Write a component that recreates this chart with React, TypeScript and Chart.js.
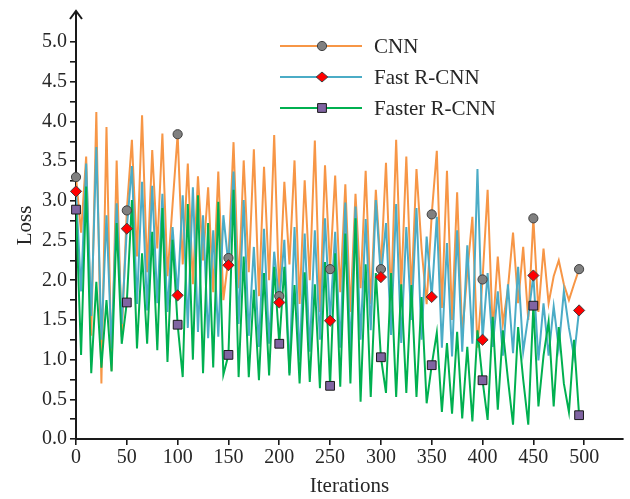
import React, { useEffect, useRef } from 'react';
import { Chart, registerables } from 'chart.js';

Chart.register(...registerables);

// ---- data ----
const iterations = [
  0, 5, 10, 15, 20, 25, 30, 35, 40, 45,
  50, 55, 60, 65, 70, 75, 80, 85, 90, 95,
  100, 105, 110, 115, 120, 125, 130, 135, 140, 145,
  150, 155, 160, 165, 170, 175, 180, 185, 190, 195,
  200, 205, 210, 215, 220, 225, 230, 235, 240, 245,
  250, 255, 260, 265, 270, 275, 280, 285, 290, 295,
  300, 305, 310, 315, 320, 325, 330, 335, 340, 345,
  350, 355, 360, 365, 370, 375, 380, 385, 390, 395,
  400, 405, 410, 415, 420, 425, 430, 435, 440, 445,
  450, 455, 460, 465, 470, 475, 480, 485, 490, 495,
];

const cnnLoss = [
  3.30, 2.60, 3.56, 1.30, 4.12, 0.70, 3.93, 0.86, 3.51, 1.29,
  2.88, 3.77, 2.30, 4.08, 2.10, 3.64, 2.40, 3.85, 2.05, 2.95,
  3.84, 2.20, 3.47, 1.95, 3.31, 2.25, 3.17, 1.85, 3.37, 1.75,
  2.28, 3.74, 1.90, 3.51, 2.10, 3.65, 1.80, 3.43, 2.00, 3.83,
  1.80, 3.24, 2.20, 3.51, 1.70, 3.26, 2.00, 3.76, 1.60, 3.45,
  2.14, 3.32, 1.85, 3.21, 1.60, 3.09, 1.90, 3.38, 1.70, 3.14,
  2.14, 3.48, 1.75, 3.77, 1.90, 3.56, 1.85, 3.40, 2.40, 1.70,
  2.83, 3.63, 1.65, 3.38, 1.50, 3.11, 1.31, 2.10, 2.80, 1.15,
  2.01, 3.14, 1.35, 2.30, 1.45, 1.90, 2.60, 1.71, 2.42, 1.50,
  2.78, 1.60, 2.40, 1.71, 2.05, 2.25, 1.95, 1.75, 1.95, 2.14,
];

const fastLoss = [
  3.12, 1.86, 3.47, 1.55, 3.68, 1.25, 2.82, 1.14, 2.97, 1.45,
  2.65, 3.44, 1.70, 3.24, 1.62, 3.19, 1.71, 3.09, 1.60, 2.67,
  1.81, 3.07, 1.40, 3.17, 1.35, 2.82, 1.27, 2.63, 1.29, 2.82,
  2.19, 3.37, 1.45, 3.01, 1.30, 2.42, 1.16, 2.65, 1.20, 2.36,
  1.72, 2.51, 0.83, 2.67, 0.99, 2.59, 1.10, 2.63, 1.25, 2.78,
  1.49, 2.61, 1.15, 2.98, 1.10, 2.93, 1.25, 2.77, 1.37, 3.01,
  2.04, 2.72, 1.31, 2.96, 1.21, 2.67, 1.50, 2.91, 1.25, 2.55,
  1.79, 2.80, 1.15, 2.47, 1.04, 2.63, 1.10, 2.44, 1.20, 3.40,
  1.25, 2.09, 1.16, 1.86, 1.05, 1.95, 1.08, 2.17, 1.10, 1.55,
  2.06, 0.99, 1.71, 1.05, 1.67, 1.15, 1.86, 1.40, 1.04, 1.62,
];

const fasterLoss = [
  2.89, 1.06, 3.18, 0.83, 1.98, 0.90, 1.75, 0.85, 2.72, 1.20,
  1.72, 3.01, 1.14, 2.34, 1.20, 2.61, 1.12, 2.91, 0.97, 2.51,
  1.44, 0.78, 2.96, 1.00, 3.07, 0.83, 2.72, 0.90, 2.99, 0.81,
  1.06, 3.14, 0.78, 2.30, 0.78, 1.88, 0.74, 2.09, 0.80, 2.17,
  1.20, 2.17, 0.80, 1.94, 0.70, 2.10, 0.72, 1.95, 0.64, 2.23,
  0.67, 2.34, 0.66, 2.59, 0.70, 2.78, 0.47, 2.20, 0.53, 2.09,
  1.03, 0.58, 2.09, 0.53, 1.95, 0.58, 1.94, 0.53, 1.79, 0.45,
  0.93, 1.34, 0.34, 1.21, 0.32, 1.35, 0.26, 1.16, 0.22, 1.37,
  0.74, 0.24, 1.54, 0.37, 1.37, 0.75, 0.18, 1.41, 0.75, 0.18,
  1.68, 0.41, 1.05, 1.48, 0.41, 1.41, 0.70, 0.34, 1.25, 0.30,
];

const markerIndices = [0, 10, 20, 30, 40, 50, 60, 70, 80, 90, 99];
const xTickValues = [0, 50, 100, 150, 200, 250, 300, 350, 400, 450, 500];
const yTickValues = [
  0, 0.25, 0.5, 0.75, 1.0, 1.25, 1.5, 1.75, 2.0, 2.25, 2.5, 2.75,
  3.0, 3.25, 3.5, 3.75, 4.0, 4.25, 4.5, 4.75, 5.0,
];

const seriesNames = ['CNN', 'Fast R-CNN', 'Faster R-CNN'];
const seriesValues = [cnnLoss, fastLoss, fasterLoss];

// ---- styles ----
const lineColors = ['#F79646', '#4BACC6', '#00B050'];
const markerFills = ['#808080', '#FF0000', '#8064A2'];
const markerBorders = ['#404040', '#404040', '#1a1a1a'];
const markerStyles = ['circle', 'rectRot', 'rect'];
const markerRadii = [4.6, 5.6, 6.2];
const FONT = "'Liberation Serif', 'Times New Roman', serif";
const TEXT_COLOR = '#262626';
const AXIS_COLOR = '#1a1a1a';

function drawLegendMarker(ctx: CanvasRenderingContext2D, k: number, x: number, y: number) {
  ctx.beginPath();
  if (markerStyles[k] === 'circle') {
    ctx.arc(x, y, 4.6, 0, Math.PI * 2);
  } else if (markerStyles[k] === 'rectRot') {
    ctx.moveTo(x - 5.8, y);
    ctx.lineTo(x, y - 5);
    ctx.lineTo(x + 5.8, y);
    ctx.lineTo(x, y + 5);
    ctx.closePath();
  } else {
    ctx.rect(x - 4.4, y - 4.4, 8.8, 8.8);
  }
  ctx.fillStyle = markerFills[k];
  ctx.fill();
  ctx.lineWidth = 1;
  ctx.strokeStyle = markerBorders[k];
  ctx.stroke();
}

const legendRows = [46, 77, 108];

const overlayPlugin = {
  id: 'overlay',
  afterDraw(chart: any) {
    const ctx: CanvasRenderingContext2D = chart.ctx;
    const area = chart.chartArea;
    ctx.save();
    // arrow on top of y axis
    ctx.strokeStyle = AXIS_COLOR;
    ctx.lineWidth = 2;
    ctx.beginPath();
    ctx.moveTo(area.left - 6, area.top + 7);
    ctx.lineTo(area.left, area.top - 1);
    ctx.lineTo(area.left + 6, area.top + 7);
    ctx.stroke();
    // legend
    seriesNames.forEach((name, k) => {
      const y = legendRows[k];
      ctx.strokeStyle = lineColors[k];
      ctx.lineWidth = 2.2;
      ctx.beginPath();
      ctx.moveTo(280, y);
      ctx.lineTo(362, y);
      ctx.stroke();
      drawLegendMarker(ctx, k, 322, y);
      ctx.fillStyle = TEXT_COLOR;
      ctx.font = `21px ${FONT}`;
      ctx.textBaseline = 'middle';
      ctx.textAlign = 'left';
      ctx.fillText(name, 374, y + 1);
    });
    ctx.restore();
  },
};

export default function App() {
  const canvasRef = useRef<HTMLCanvasElement | null>(null);

  useEffect(() => {
    document.body.style.margin = '0';
    const canvas = canvasRef.current;
    if (!canvas) return;

    const lineSets = seriesValues.map((vals, k) => ({
      type: 'line' as const,
      label: seriesNames[k],
      data: iterations.map((x, i) => ({ x, y: vals[i] })),
      borderColor: lineColors[k],
      borderWidth: 2,
      pointRadius: 0,
      tension: 0,
      fill: false,
      order: 12 - k,
    }));

    const markerSets = seriesValues.map((vals, k) => ({
      type: 'line' as const,
      label: seriesNames[k] + ' markers',
      data: markerIndices.map((i) => ({ x: iterations[i], y: vals[i] })),
      showLine: false,
      pointStyle: markerStyles[k],
      pointRadius: markerRadii[k],
      pointBackgroundColor: markerFills[k],
      pointBorderColor: markerBorders[k],
      pointBorderWidth: 1,
      clip: false as any,
      order: 2 - k,
    }));

    const chart = new Chart(canvas, {
      type: 'line',
      data: { datasets: [...lineSets, ...markerSets] as any },
      options: {
        animation: false,
        responsive: false,
        events: [],
        layout: { padding: { left: 0, right: 3, top: 12, bottom: 0 } },
        plugins: { legend: { display: false }, tooltip: { enabled: false } },
        scales: {
          x: {
            type: 'linear',
            min: 0,
            max: 538,
            afterBuildTicks: (s: any) => {
              s.ticks = xTickValues.map((v) => ({ value: v }));
            },
            afterFit: (s: any) => {
              s.height = 60;
              s.paddingLeft = 0;
              s.paddingRight = 0;
            },
            ticks: {
              autoSkip: false,
              maxRotation: 0,
              padding: 1,
              color: TEXT_COLOR,
              font: { family: FONT, size: 20 },
              callback: (v: any) => String(v),
            },
            grid: {
              drawOnChartArea: false,
              drawTicks: true,
              tickLength: 6,
              color: AXIS_COLOR,
              lineWidth: 1.6,
            },
            border: { display: true, color: AXIS_COLOR, width: 2 },
            title: {
              display: true,
              text: 'Iterations',
              color: TEXT_COLOR,
              font: { family: FONT, size: 21 },
              padding: { top: 0, bottom: 0 },
            },
          },
          y: {
            type: 'linear',
            min: 0,
            max: 5.38,
            afterBuildTicks: (s: any) => {
              s.ticks = yTickValues.map((v) => ({ value: v }));
            },
            afterFit: (s: any) => {
              s.width = 76;
              s.paddingTop = 0;
              s.paddingBottom = 0;
            },
            ticks: {
              autoSkip: false,
              padding: 3,
              color: TEXT_COLOR,
              font: { family: FONT, size: 20 },
              callback: (v: any) => {
                const n = Number(v);
                return Math.abs(n * 2 - Math.round(n * 2)) < 1e-6 ? n.toFixed(1) : '';
              },
            },
            grid: {
              drawOnChartArea: false,
              drawTicks: true,
              tickLength: 6,
              color: AXIS_COLOR,
              lineWidth: 1.6,
            },
            border: { display: true, color: AXIS_COLOR, width: 2 },
            title: {
              display: true,
              text: 'Loss',
              color: TEXT_COLOR,
              font: { family: FONT, size: 21 },
              padding: { top: 13, bottom: 0 },
            },
          },
        },
      },
      plugins: [overlayPlugin],
    });

    return () => {
      chart.destroy();
    };
  }, []);

  return (
    <div style={{ width: 630, height: 499, position: 'relative', background: '#fff' }}>
      <canvas ref={canvasRef} width={630} height={499} />
    </div>
  );
}
